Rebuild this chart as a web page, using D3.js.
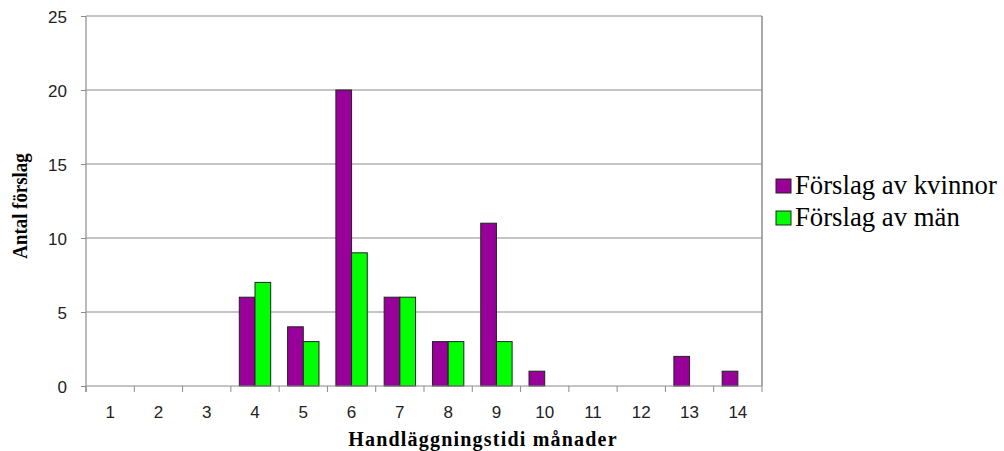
<!DOCTYPE html>
<html>
<head>
<meta charset="utf-8">
<script src="https://cdn.jsdelivr.net/npm/d3@7"></script>
<style>
  html, body { margin: 0; padding: 0; background: #fff; }
  svg { display: block; }
</style>
</head>
<body>
<svg id="chart" width="1004" height="451"></svg>
<script>
// Handläggningstid (months) for proposals, split by who submitted them
const months = ["1","2","3","4","5","6","7","8","9","10","11","12","13","14"];
const kvinnor = [0,0,0,6,4,20,6,3,11,1,0,0,2,1];
const man     = [0,0,0,7,3,9,6,3,3,0,0,0,0,0];
const seriesNames = ["Förslag av kvinnor", "Förslag av män"];
const seriesColors = ["#990099", "#00ff00"];
const yTicks = [0,5,10,15,20,25];

const SERIF = "'Liberation Serif', 'Times New Roman', serif";
const SANS = "'Liberation Sans', Arial, sans-serif";

const svg = d3.select("#chart");
const W = 1004, H = 451;
const margin = {left: 86, top: 16, right: W - 762, bottom: H - 386};
const x0 = margin.left, x1 = W - margin.right;
const y0 = H - margin.bottom, y1 = margin.top;

const x = d3.scaleBand().domain(months).range([x0, x1]).paddingInner(0).paddingOuter(0);
const groupPad = 0.175;
const xs = d3.scaleBand().domain([0,1])
  .range([x.bandwidth() * groupPad, x.bandwidth() * (1 - groupPad)]);
const y = d3.scaleLinear().domain([0,25]).range([y0, y1]);

const axisGrey = "#8c8c8c";

// horizontal gridlines
svg.append("g").selectAll("line").data(yTicks.filter(d => d > 0)).join("line")
  .attr("x1", x0).attr("x2", x1)
  .attr("y1", d => y(d)).attr("y2", d => y(d))
  .attr("stroke", axisGrey).attr("stroke-width", 1.2);

// right border of the plot area
svg.append("line").attr("x1", x1).attr("x2", x1).attr("y1", y1).attr("y2", y0)
  .attr("stroke", axisGrey).attr("stroke-width", 1.5);

// bars
const data = months.map((m, i) => ({m, vals: [kvinnor[i], man[i]]}));
const groups = svg.append("g").selectAll("g").data(data).join("g")
  .attr("transform", d => `translate(${x(d.m)},0)`);
groups.selectAll("rect")
  .data(d => d.vals.map((v, k) => ({v, k})).filter(e => e.v > 0))
  .join("rect")
  .attr("x", e => xs(e.k))
  .attr("width", xs.bandwidth())
  .attr("y", e => y(e.v))
  .attr("height", e => y0 - y(e.v))
  .attr("fill", e => seriesColors[e.k])
  .attr("stroke", "#222")
  .attr("stroke-width", 1);

// y axis
const yAxis = d3.axisLeft(y).tickValues(yTicks).tickSize(5).tickPadding(14);
const gy = svg.append("g").attr("transform", `translate(${x0},0)`).call(yAxis);
gy.select(".domain").attr("stroke", axisGrey).attr("stroke-width", 1.2)
  .attr("d", `M0,${y1}V${y0 + 6}`);
gy.selectAll(".tick line").attr("stroke", axisGrey);
gy.selectAll(".tick text")
  .style("font-family", SANS)
  .attr("font-size", 17).attr("fill", "#222").attr("dy", "0.4em");

// x axis: ticks at category boundaries
const bounds = months.map(d => x(d)).concat([x1]);
const gx = svg.append("g").attr("transform", `translate(0,${y0})`);
gx.append("line").attr("x1", x0).attr("x2", x1).attr("y1", 0).attr("y2", 0)
  .attr("stroke", axisGrey).attr("stroke-width", 1.2);
gx.selectAll("line.tk").data(bounds).join("line").attr("class", "tk")
  .attr("x1", d => d).attr("x2", d => d).attr("y1", 0).attr("y2", 6)
  .attr("stroke", axisGrey);
gx.selectAll("text").data(months).join("text")
  .attr("x", d => x(d) + x.bandwidth() / 2)
  .attr("y", 32)
  .attr("text-anchor", "middle")
  .style("font-family", SANS)
  .attr("font-size", 17).attr("fill", "#222")
  .text(d => d);

// axis titles
svg.append("text")
  .attr("x", 483).attr("y", 446)
  .attr("text-anchor", "middle")
  .style("font-family", SERIF)
  .style("letter-spacing", "1.2px")
  .attr("font-weight", "bold").attr("font-size", 20)
  .text("Handläggningstidi månader");
svg.append("text")
  .attr("transform", "translate(27,206) rotate(-90) scale(0.9,1)")
  .attr("text-anchor", "middle")
  .style("font-family", SERIF)
  .attr("font-weight", "bold").attr("font-size", 21)
  .text("Antal förslag");

// legend
const leg = svg.append("g").attr("transform", "translate(776,179)");
const items = leg.selectAll("g").data(seriesNames).join("g")
  .attr("transform", (d, i) => `translate(0,${i * 32})`);
items.append("rect").attr("width", 15).attr("height", 14)
  .attr("fill", (d, i) => seriesColors[i]).attr("stroke", "#222").attr("stroke-width", 1);
items.append("text")
  .attr("transform", "translate(19,15) scale(0.955,1)")
  .style("font-family", SERIF)
  .attr("font-size", 28).attr("fill", "#000")
  .text(d => d);
</script>
</body>
</html>
